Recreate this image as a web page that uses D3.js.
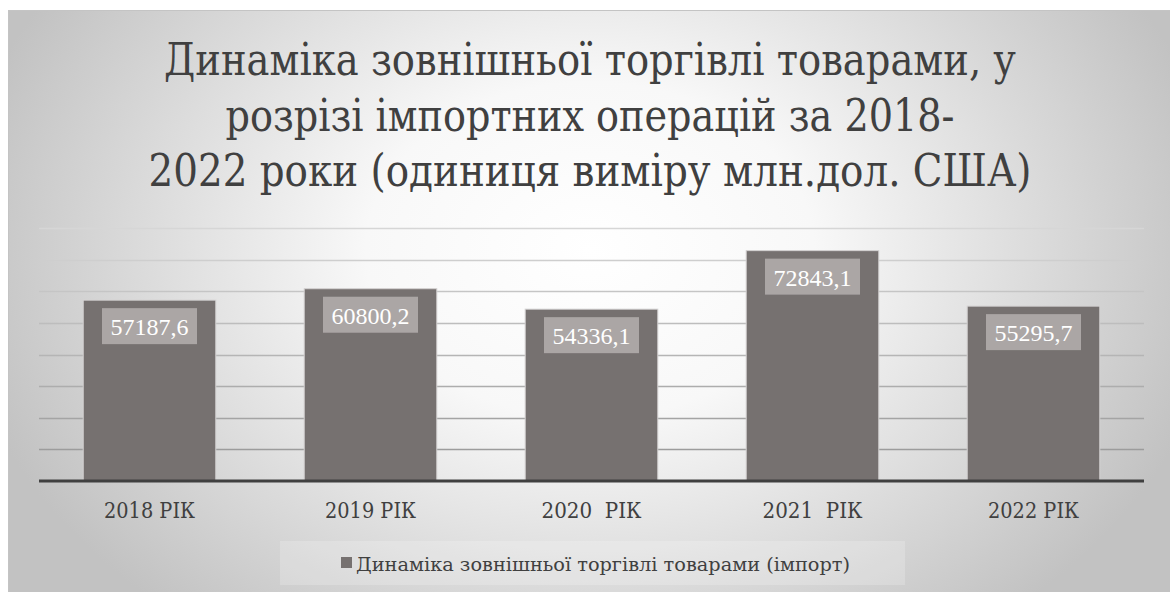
<!DOCTYPE html>
<html>
<head>
<meta charset="utf-8">
<script src="https://cdn.jsdelivr.net/npm/d3@7"></script>
<style>
  html, body { margin: 0; padding: 0; background: #ffffff; }
  svg { display: block; }
</style>
</head>
<body>
<svg id="chart" width="1170" height="592"></svg>
<script>
// Import of goods, million USD
const years = ["2018 РІК", "2019 РІК", "2020  РІК", "2021  РІК", "2022 РІК"];
const importValues = [57187.6, 60800.2, 54336.1, 72843.1, 55295.7];
const valueLabels = ["57187,6", "60800,2", "54336,1", "72843,1", "55295,7"];
const gridTicks = [10000, 20000, 30000, 40000, 50000, 60000, 70000, 80000];
const titleLines = [
  "Динаміка зовнішньої торгівлі товарами, у",
  "розрізі імпортних операцій за 2018-",
  "2022 роки (одиниця виміру млн.дол. США)"
];
const legendLabel = "Динаміка зовнішньої торгівлі товарами (імпорт)";

const CYR_SERIF = "'DejaVu Serif', serif";
const NUM_SERIF = "'Liberation Serif', 'Times New Roman', serif";

const W = 1170, H = 592;
const frame = { x: 8.5, y: 10.5 };
const plot = { left: 39, right: 1144, top: 228, bottom: 481 };

const svg = d3.select("#chart");
const defs = svg.append("defs");

// Soft radial background
const bg = defs.append("radialGradient")
  .attr("id", "bgGrad")
  .attr("gradientUnits", "userSpaceOnUse")
  .attr("cx", 590).attr("cy", 250).attr("r", 640)
  .attr("gradientTransform", "translate(590,250) scale(1,0.75) translate(-590,-250)");
bg.append("stop").attr("offset", "0").attr("stop-color", "#ffffff");
bg.append("stop").attr("offset", "0.35").attr("stop-color", "#f8f8f8");
bg.append("stop").attr("offset", "1").attr("stop-color", "#c2c2c2");

svg.append("rect")
  .attr("x", frame.x).attr("y", frame.y)
  .attr("width", W - frame.x + 2).attr("height", H - frame.y + 2)
  .attr("fill", "url(#bgGrad)")
  .attr("stroke", "#c4c4c4").attr("stroke-width", 1);

// Title
const titleBaselines = [75, 130.5, 186];
const titleWidths = [852, 729, 883];
svg.append("g").selectAll("text")
  .data(titleLines)
  .join("text")
  .attr("x", 590)
  .attr("y", (d, i) => titleBaselines[i])
  .attr("text-anchor", "middle")
  .style("font-family", CYR_SERIF)
  .attr("font-size", 44)
  .attr("fill", "#404040")
  .attr("textLength", (d, i) => titleWidths[i])
  .attr("lengthAdjust", "spacingAndGlyphs")
  .text(d => d);

// Scales
const x = d3.scaleBand()
  .domain(years)
  .range([plot.left, plot.right])
  .paddingInner(0.4)
  .paddingOuter(0.2);

const y = d3.scaleLinear()
  .domain([0, 80000])
  .range([plot.bottom, plot.top]);

// Gridlines (slightly darker toward the axis)
const gridColor = d3.scaleLinear().domain([80000, 10000]).range(["#d6d6d6", "#9c9c9c"]);
svg.append("g")
  .selectAll("line")
  .data(gridTicks)
  .join("line")
  .attr("x1", plot.left).attr("x2", plot.right)
  .attr("y1", d => Math.round(y(d)) + 0.5)
  .attr("y2", d => Math.round(y(d)) + 0.5)
  .attr("stroke", d => gridColor(d))
  .attr("stroke-width", 1.3);

// Bars
const data = years.map((c, i) => ({ cat: c, value: importValues[i], label: valueLabels[i] }));
svg.append("g")
  .selectAll("rect")
  .data(data)
  .join("rect")
  .attr("x", d => x(d.cat))
  .attr("y", d => y(d.value))
  .attr("width", x.bandwidth())
  .attr("height", d => y(0) - y(d.value))
  .attr("fill", "#767170")
  .attr("stroke", "#d4d2d2")
  .attr("stroke-width", 1);

// Category axis
const xAxis = svg.append("g")
  .attr("transform", `translate(0,${plot.bottom})`)
  .call(d3.axisBottom(x).tickSize(0).tickPadding(21));
xAxis.select(".domain")
  .attr("d", `M${plot.left},0H${plot.right}`)
  .attr("stroke", "#404040")
  .attr("stroke-width", 3);
xAxis.selectAll(".tick text")
  .style("font-family", CYR_SERIF)
  .attr("font-size", 22)
  .attr("fill", "#404040")
  .style("white-space", "pre")
  .attr("textLength", d => d.includes("  ") ? 100 : 91)
  .attr("lengthAdjust", "spacingAndGlyphs")
  .attr("dy", "0.71em");

// Data labels
const boxW = 95, boxH = 36;
const labels = svg.append("g")
  .selectAll("g")
  .data(data)
  .join("g")
  .attr("transform", d => `translate(${x(d.cat) + x.bandwidth() / 2},${y(d.value) + 8})`);
labels.append("rect")
  .attr("x", -boxW / 2).attr("y", 0)
  .attr("width", boxW).attr("height", boxH)
  .attr("fill", "#aba6a5");
labels.append("text")
  .attr("x", 0).attr("y", 27)
  .attr("text-anchor", "middle")
  .style("font-family", NUM_SERIF)
  .attr("font-size", 24)
  .attr("fill", "#ffffff")
  .text(d => d.label);

// Legend
const legend = svg.append("g");
legend.append("rect")
  .attr("x", 280).attr("y", 541)
  .attr("width", 625).attr("height", 44)
  .attr("fill", "#ffffff").attr("fill-opacity", 0.2);
legend.append("rect")
  .attr("x", 341).attr("y", 557)
  .attr("width", 11).attr("height", 11)
  .attr("fill", "#767170");
legend.append("text")
  .attr("x", 356).attr("y", 571)
  .style("font-family", CYR_SERIF)
  .attr("font-size", 19)
  .attr("fill", "#404040")
  .attr("textLength", 494)
  .attr("lengthAdjust", "spacingAndGlyphs")
  .text(legendLabel);
</script>
</body>
</html>
